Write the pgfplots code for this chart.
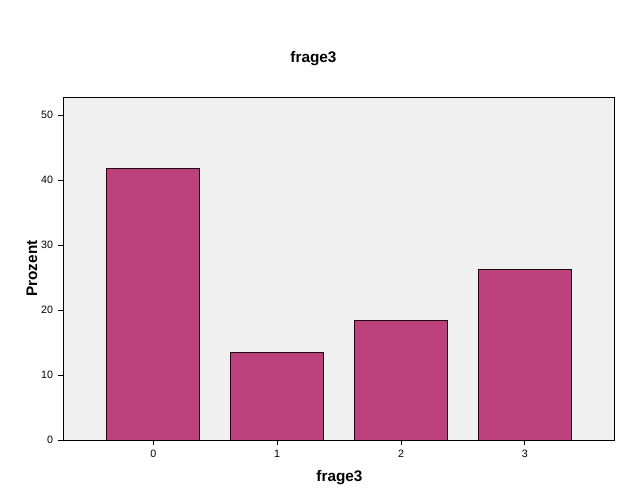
\documentclass[border=0pt]{standalone}
\usepackage{pgfplots}
\pgfplotsset{compat=1.18}
\usepackage{fontspec}
\setmainfont{Liberation Sans}
\definecolor{barfill}{RGB}{188,65,124}
\definecolor{plotbg}{RGB}{240,240,240}
\begin{document}
\begin{tikzpicture}[x=0.75pt,y=0.75pt]
\fill[white,use as bounding box] (0,0) rectangle (627,502);
\begin{axis}[
  at={(47.25pt,46.5pt)}, anchor=south west,
  width=413.25pt, height=257.25pt, scale only axis,
  xmin=-0.73, xmax=3.72, ymin=0, ymax=52.8,
  xtick={0,1,2,3}, ytick={0,10,20,30,40,50},
  tick align=outside, major tick length=4pt,
  tick style={black, line width=0.6pt},
  axis background/.style={fill=plotbg},
  axis line style={black, line width=0.6pt},
  tick label style={font=\fontsize{8}{9.5}\selectfont},
  /pgf/number format/assume math mode=true,
  xtick pos=bottom, ytick pos=left,
  ybar, bar width=69.75pt,
]
\addplot[fill=barfill, draw=black!85!barfill, line width=0.6pt] coordinates {(0,41.8) (1,13.5) (2,18.4) (3,26.2)};
\end{axis}
\node[font=\fontsize{11.5}{13}\selectfont\bfseries, anchor=base] at (313.5,439) {frage3};
\node[font=\fontsize{11.5}{13}\selectfont\bfseries, anchor=base] at (339.5,20) {frage3};
\node[font=\fontsize{11.5}{13}\selectfont\bfseries, rotate=90] at (32,233.5) {Prozent};
\end{tikzpicture}
\end{document}
